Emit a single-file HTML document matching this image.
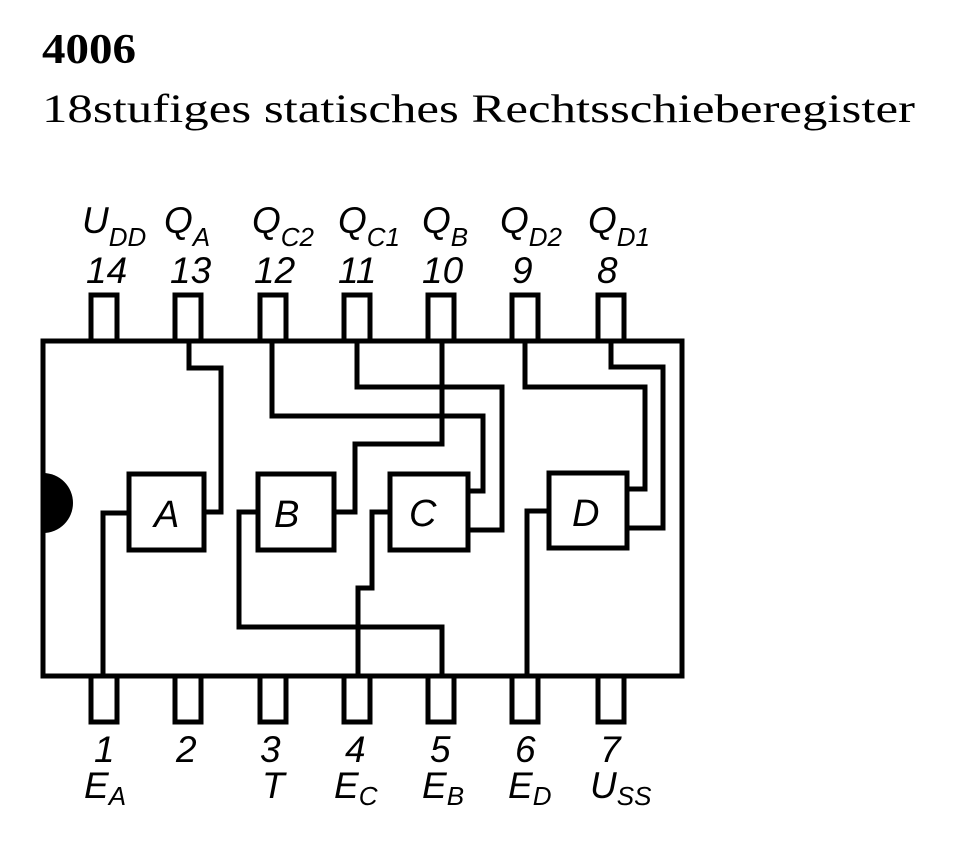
<!DOCTYPE html>
<html><head><meta charset="utf-8"><style>
html,body{margin:0;padding:0;background:#fff;}
svg{display:block;}
.l{font-family:"Liberation Sans",sans-serif;font-style:italic;fill:#000;}
</style></head><body>
<svg width="980" height="862" viewBox="0 0 980 862" xmlns="http://www.w3.org/2000/svg">
<text x="42" y="63" font-family="Liberation Serif,serif" font-weight="bold" font-size="42" textLength="94" lengthAdjust="spacingAndGlyphs">4006</text>
<text x="42" y="122" font-family="Liberation Serif,serif" font-size="40" textLength="873" lengthAdjust="spacingAndGlyphs">18stufiges statisches Rechtsschieberegister</text>
<g fill="none" stroke="#000" stroke-width="5">
<rect x="43" y="341" width="639" height="335"/>
<rect x="91" y="295" width="26" height="46"/><rect x="175" y="295" width="26" height="46"/>
<rect x="260" y="295" width="26" height="46"/><rect x="344" y="295" width="26" height="46"/>
<rect x="428" y="295" width="26" height="46"/><rect x="512" y="295" width="26" height="46"/>
<rect x="598" y="295" width="26" height="46"/>
<rect x="91" y="676" width="26" height="46"/><rect x="175" y="676" width="26" height="46"/>
<rect x="260" y="676" width="26" height="46"/><rect x="344" y="676" width="26" height="46"/>
<rect x="428" y="676" width="26" height="46"/><rect x="512" y="676" width="26" height="46"/>
<rect x="598" y="676" width="26" height="46"/>
<rect x="129" y="474" width="75" height="76"/>
<rect x="258" y="474" width="76" height="76"/>
<rect x="390" y="474" width="78" height="76"/>
<rect x="549" y="473" width="78" height="75"/>
<polyline points="189,341 189,368 221,368 221,512 204,512"/>
<polyline points="103,676 103,513 129,513"/>
<polyline points="258,512 239,512 239,627 442,627 442,676"/>
<polyline points="272,341 272,416 483,416 483,491 468,491"/>
<polyline points="334,512 355,512 355,444 442,444 442,341"/>
<polyline points="357,341 357,387 502,387 502,530 468,530"/>
<polyline points="390,512 372,512 372,588 358,588 358,676"/>
<polyline points="525,341 525,387 645,387 645,489 627,489"/>
<polyline points="611,341 611,367 663,367 663,528 627,528"/>
<polyline points="527,676 527,511 549,511"/>
</g>
<path d="M43,473 A30,30 0 0 1 43,533 Z" fill="#000"/>
<g class="l" font-size="38">
<text x="154" y="527">A</text>
<text x="274" y="527">B</text>
<text x="409" y="526">C</text>
<text x="572" y="526">D</text>
</g>
<g class="l" font-size="37">
<text x="82" y="233">U<tspan font-size="26" dy="13">DD</tspan></text>
<text x="164" y="233">Q<tspan font-size="26" dy="13">A</tspan></text>
<text x="252" y="233">Q<tspan font-size="26" dy="13">C2</tspan></text>
<text x="338" y="233">Q<tspan font-size="26" dy="13">C1</tspan></text>
<text x="422" y="233">Q<tspan font-size="26" dy="13">B</tspan></text>
<text x="500" y="233">Q<tspan font-size="26" dy="13">D2</tspan></text>
<text x="588" y="233">Q<tspan font-size="26" dy="13">D1</tspan></text>
<text x="86" y="283">14</text><text x="170" y="283">13</text>
<text x="254" y="283">12</text><text x="338" y="283">11</text>
<text x="422" y="283">10</text><text x="512" y="283">9</text>
<text x="597" y="283">8</text>
<text x="94" y="762">1</text><text x="176" y="762">2</text>
<text x="260" y="762">3</text><text x="345" y="762">4</text>
<text x="430" y="762">5</text><text x="515" y="762">6</text>
<text x="600" y="762">7</text>
<text x="84" y="798">E<tspan font-size="26" dy="7">A</tspan></text>
<text x="262" y="798">T</text>
<text x="334" y="798">E<tspan font-size="26" dy="7">C</tspan></text>
<text x="422" y="798">E<tspan font-size="26" dy="7">B</tspan></text>
<text x="508" y="798">E<tspan font-size="26" dy="7">D</tspan></text>
<text x="590" y="798">U<tspan font-size="26" dy="7">SS</tspan></text>
</g>
</svg>
</body></html>
